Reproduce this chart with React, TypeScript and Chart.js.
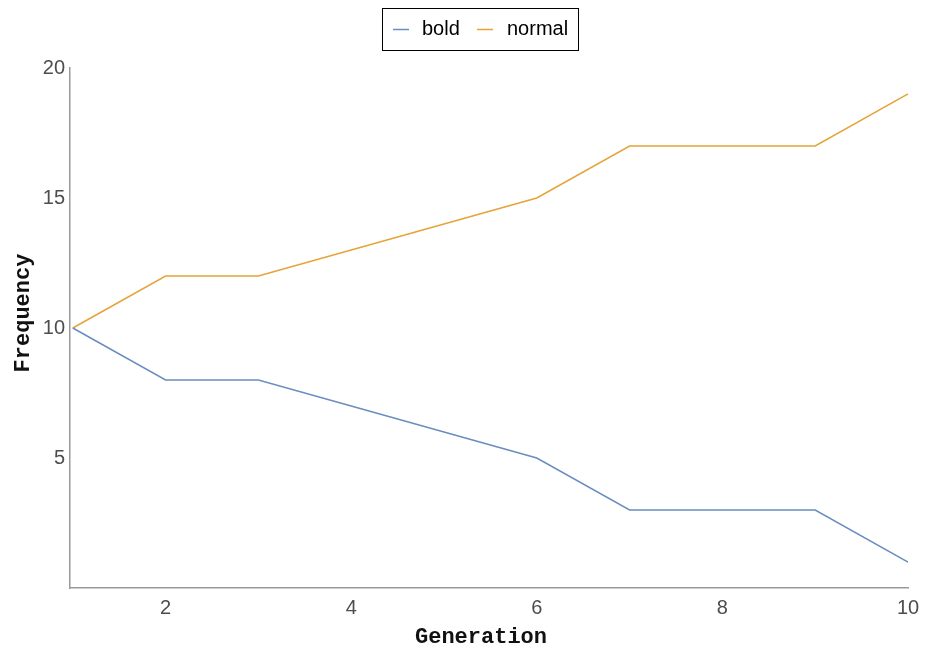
import React, { useEffect, useRef } from "react";
import { Chart, registerables } from "chart.js";

Chart.register(...registerables);

const generations = [1, 2, 3, 4, 5, 6, 7, 8, 9, 10];
const boldValues = [10, 8, 8, 7, 6, 5, 3, 3, 3, 1];
const normalValues = [10, 12, 12, 13, 14, 15, 17, 17, 17, 19];
const seriesNames = ["bold", "normal"];
const seriesColors = ["#6a8dbf", "#e6a33a"];
const xTicks = [2, 4, 6, 8, 10];
const yTicks = [5, 10, 15, 20];
const xTitle = "Generation";
const yTitle = "Frequency";

const overlayPlugin = {
  id: "overlay",
  afterDraw(chart: any) {
    const ctx = chart.ctx;
    ctx.save();
    // Axis titles
    ctx.fillStyle = "#111";
    ctx.font = "bold 22px 'Liberation Mono', 'DejaVu Sans Mono', monospace";
    ctx.textAlign = "center";
    ctx.textBaseline = "middle";
    ctx.fillText(xTitle, 481, 637);
    ctx.save();
    ctx.translate(23, 313);
    ctx.rotate(-Math.PI / 2);
    ctx.fillText(yTitle, 0, 0);
    ctx.restore();

    // Legend
    ctx.font = "20px 'Liberation Sans', Arial, sans-serif";
    const boxLeft = 382;
    const boxTop = 8;
    const boxRight = 578;
    const boxBottom = 50;
    ctx.strokeStyle = "#000";
    ctx.lineWidth = 1;
    ctx.strokeRect(boxLeft + 0.5, boxTop + 0.5, boxRight - boxLeft, boxBottom - boxTop);
    const midY = (boxTop + boxBottom) / 2 + 0.5;
    const entries = [
      { x: 393, tx: 422 },
      { x: 477, tx: 507 },
    ];
    seriesNames.forEach((name, i) => {
      ctx.strokeStyle = seriesColors[i];
      ctx.lineWidth = 1.5;
      ctx.beginPath();
      ctx.moveTo(entries[i].x, midY);
      ctx.lineTo(entries[i].x + 16, midY);
      ctx.stroke();
      ctx.fillStyle = "#000";
      ctx.textAlign = "left";
      ctx.textBaseline = "middle";
      ctx.fillText(name, entries[i].tx, midY);
    });
    ctx.restore();
  },
};

export default function App() {
  const canvasRef = useRef<HTMLCanvasElement>(null);

  useEffect(() => {
    if (!canvasRef.current) return;
    const chart = new Chart(canvasRef.current, {
      type: "line",
      data: {
        datasets: [
          {
            label: seriesNames[0],
            data: generations.map((g, i) => ({ x: g, y: boldValues[i] })),
            borderColor: seriesColors[0],
            borderWidth: 1.5,
            pointRadius: 0,
            tension: 0,
          },
          {
            label: seriesNames[1],
            data: generations.map((g, i) => ({ x: g, y: normalValues[i] })),
            borderColor: seriesColors[1],
            borderWidth: 1.5,
            pointRadius: 0,
            tension: 0,
          },
        ],
      },
      options: {
        animation: false,
        responsive: false,
        maintainAspectRatio: false,
        layout: { padding: { top: 68, right: 17, left: 0, bottom: 0 } },
        plugins: {
          legend: { display: false },
          tooltip: { enabled: false },
        },
        scales: {
          x: {
            type: "linear",
            min: 0.97,
            max: 10,
            grid: { display: false, drawTicks: false },
            border: { display: true, color: "#9a9a9a", width: 1.5 },
            afterBuildTicks(scale: any) {
              scale.ticks = xTicks.map((v) => ({ value: v }));
            },
            afterFit(scale: any) {
              scale.height = 654 - 588;
              scale.paddingRight = 0;
              scale.paddingLeft = 0;
            },
            ticks: {
              color: "#4d4d4d",
              padding: 8,
              maxRotation: 0,
              font: { size: 20, family: "'Liberation Sans', Arial, sans-serif" },
            },
          },
          y: {
            type: "linear",
            min: 0,
            max: 20,
            grid: { display: false, drawTicks: false },
            border: { display: true, color: "#9a9a9a", width: 1.5 },
            afterBuildTicks(scale: any) {
              scale.ticks = yTicks.map((v) => ({ value: v }));
            },
            afterFit(scale: any) {
              scale.width = 70;
              scale.paddingTop = 0;
              scale.paddingBottom = 0;
            },
            ticks: {
              color: "#4d4d4d",
              padding: 5,
              font: { size: 20, family: "'Liberation Sans', Arial, sans-serif" },
            },
          },
        },
      },
      plugins: [overlayPlugin],
    });
    return () => chart.destroy();
  }, []);

  return (
    <div style={{ position: "fixed", left: 0, top: 0, width: 925, height: 654, background: "#fff" }}>
      <canvas ref={canvasRef} width={925} height={654} style={{ width: 925, height: 654 }} />
    </div>
  );
}
